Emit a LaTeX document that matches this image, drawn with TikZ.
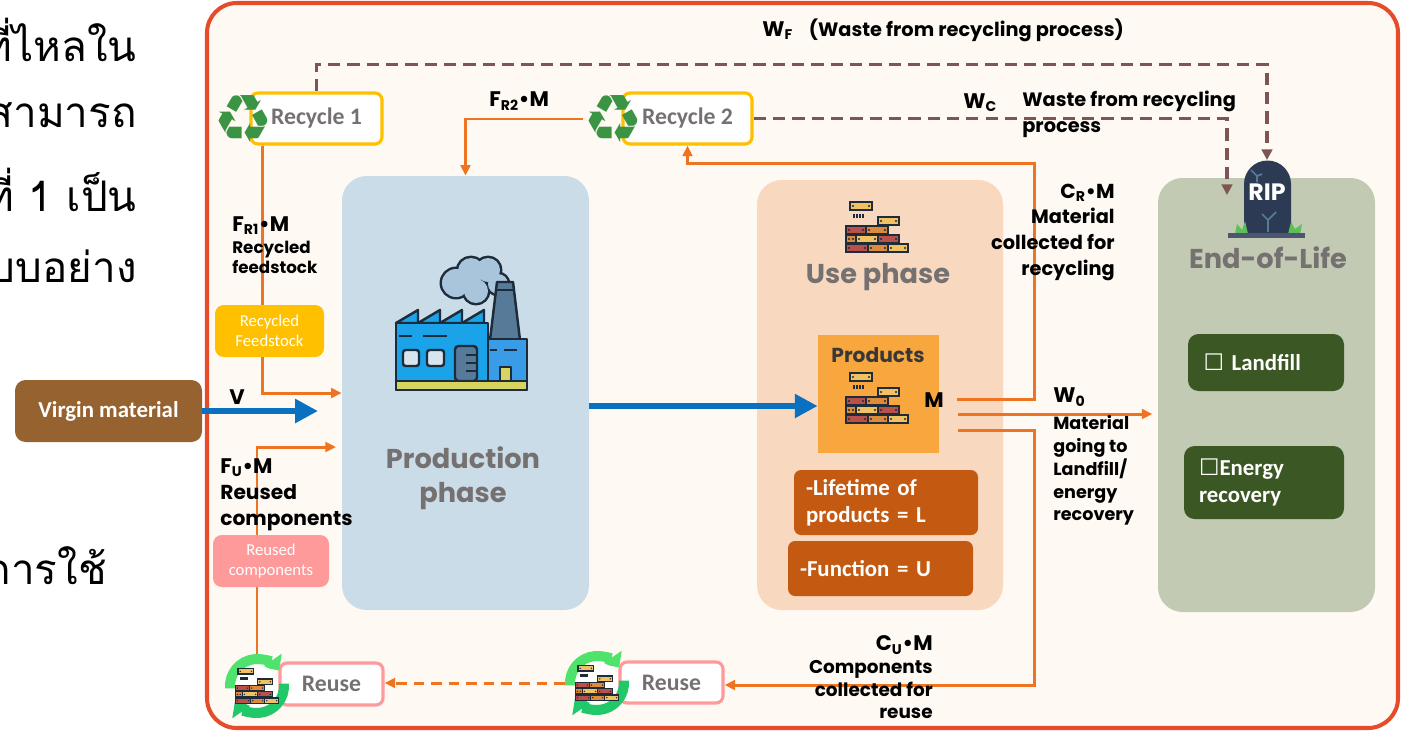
\documentclass[tikz,border=0pt]{standalone}
\usepackage{fontspec}
\setmainfont{Poppins}
\newfontfamily\boxfont{Carlito}
\newfontfamily\thaifont[Script=Thai]{Loma}
\newfontfamily\symfont{DejaVu Sans}
\usetikzlibrary{arrows.meta,positioning}

\definecolor{framered}{HTML}{E64B2A}
\definecolor{cream}{HTML}{FEFAF3}
\definecolor{prodblue}{HTML}{CADCE8}
\definecolor{usepeach}{HTML}{F8D8BF}
\definecolor{eolsage}{HTML}{C2CAB3}
\definecolor{eolgreen}{HTML}{3A5724}
\definecolor{lifebrown}{HTML}{C45A12}
\definecolor{prodorange}{HTML}{F8A63E}
\definecolor{virginbrown}{HTML}{966330}
\definecolor{flowblue}{HTML}{0A70C0}
\definecolor{floworange}{HTML}{EE7422}
\definecolor{wastebrown}{HTML}{7E5552}
\definecolor{feedyellow}{HTML}{FFC000}
\definecolor{comppink}{HTML}{FF9A9A}
\definecolor{titlegray}{HTML}{767171}
\definecolor{recgreen}{HTML}{3A9444}
\definecolor{ringlight}{HTML}{4FE36E}
\definecolor{ringdark}{HTML}{20C86A}
\definecolor{inkdark}{HTML}{1D2B3A}
\definecolor{brickred}{HTML}{B9514B}
\definecolor{brickorange}{HTML}{DB8B3A}
\definecolor{brickyellow}{HTML}{F1C262}
\definecolor{tombblue}{HTML}{2C3A53}
\definecolor{tombbase}{HTML}{4A5672}
\definecolor{grass}{HTML}{5CBF58}
\definecolor{factblue}{HTML}{1AA3E9}
\definecolor{factblueb}{HTML}{3A9BE6}
\definecolor{chimney}{HTML}{587A99}
\definecolor{smoke}{HTML}{A8C5DC}
\definecolor{winlight}{HTML}{D8E4EE}
\definecolor{baseyellow}{HTML}{D6D45E}

\tikzset{
  wh/.style 2 args={minimum width=#1*0.02cm, minimum height=#2*0.02cm},
  phase/.style={rounded corners=14pt, inner sep=0pt},
  darkbox/.style={rounded corners=4pt, inner sep=0pt, text=white,
    font=\boxfont\bfseries\fontsize{13}{15.5}\selectfont},
  tagbox/.style={rounded corners=5pt, inner sep=0pt, text=white, align=center,
    font=\boxfont\fontsize{9.5}{11.5}\selectfont},
  stepname/.style={draw, line width=1.8pt, fill=white, rounded corners=4pt, inner sep=0pt,
    text=titlegray, font=\boxfont\bfseries\fontsize{13.5}{16}\selectfont},
  phasetitle/.style={text=titlegray, align=center, inner sep=0pt,
    font=\bfseries\fontsize{15.5}{19.5}\selectfont},
  lbl/.style={inner sep=0pt, font=\bfseries\fontsize{11}{15}\selectfont},
  biglbl/.style={inner sep=0pt, font=\bfseries\fontsize{12}{14}\selectfont},
  recsym/.style={inner sep=0pt, text=recgreen, font=\symfont\fontsize{38}{38}\selectfont},
  flow/.style={floworange, line width=1.7pt, -{Triangle[length=6pt,width=5.5pt]}},
  vflow/.style={flowblue, line width=3.6pt, -{Triangle[length=13pt,width=13pt]}},
  waste/.style={wastebrown, line width=2pt, dash pattern=on 7pt off 4pt,
    -{Triangle[length=6pt,width=6pt]}},
  pics/bricks/.style={code={
    % a small pile of bricks, 62 x 50 units, centred
    \begin{scope}[shift={(-31,-25)}, draw=inkdark, line width=0.9pt]
      \foreach \bx/\by/\bw/\bc in {4/0/22/brickyellow, 32/15/21/brickyellow,
          0/24/20/brickred, 20/24/22/brickorange,
          0/33/10/brickorange, 10/33/22/brickyellow, 32/33/21/brickred,
          0/42/22/brickred, 22/42/20/brickorange, 42/42/20/brickyellow}
        {\filldraw[fill=\bc] (\bx,\by) rectangle ++(\bw,8);
         \fill[inkdark] ({\bx+3},{\by+4}) circle (1.1);
         \fill[inkdark] ({\bx+\bw-3},{\by+4}) circle (1.1);}
      \foreach \bx in {8,11,14,17} \draw (\bx,12) -- (\bx,16);
    \end{scope}
  }},
}

\begin{document}
\begin{tikzpicture}[x=0.02cm, y=-0.02cm]
  \useasboundingbox (0,0) rectangle (1407,731);
  \clip (0,0) rectangle (1407,731);

  % slide text on the left
  \foreach \ty/\tx/\thaitxt in {40/137/ที่ไหลใน, 115/137/สามารถ, 190/137/ที่ 1 เป็น,
      266/137/แบบอย่าง, 566/107/การใช้}
    \node[anchor=east, inner sep=0pt, font=\thaifont\fontsize{24}{28}\selectfont]
      (thai\ty) at (\tx,\ty) {\thaitxt};

  % frame and phases
  \node[draw=framered, line width=2.3pt, fill=cream, rounded corners=17pt, wh={1191}{725}]
    (frame) at (802.5,365.5) {};
  \node[phase, fill=prodblue, wh={247}{434}] (prod) at (465.5,393) {};
  \node[phase, fill=usepeach, wh={246}{430}] (use) at (880,395) {};
  \node[phase, fill=eolsage, wh={217}{434}] (eol) at (1266.5,395) {};

  \node[darkbox, fill=virginbrown, rounded corners=6pt, wh={187}{62}]
    (virgin) at (108.5,411) {Virgin material};
  \node[darkbox, fill=prodorange, rounded corners=0pt, wh={121}{118}] (products) at (878.5,394) {};
  \node[darkbox, fill=lifebrown, wh={184}{65}, align=left, text width=3.2cm]
    (life) at (886,502.5) {-Lifetime of\\products = L};
  \node[darkbox, fill=lifebrown, wh={185}{55}, align=left, text width=3.22cm]
    (func) at (880.5,568.5) {-Function = U};
  \node[darkbox, fill=eolgreen, rounded corners=6pt, wh={156}{57}, align=left, text width=2.5cm]
    (landfill) at (1266,362.5) {{\symfont\fontsize{13}{13}\selectfont ☐} Landfill};
  \node[darkbox, fill=eolgreen, rounded corners=6pt, wh={160}{73}, align=left, text width=2.6cm]
    (energy) at (1264,482.5) {{\symfont\fontsize{13}{13}\selectfont ☐}Energy\\recovery};

  % coordinates where the flows bend or end
  \coordinate (vin) at (318,411);
  \coordinate (pout) at (589,406);
  \coordinate (fuin) at (336,447);
  \coordinate (mout1) at (957,399);
  \coordinate (mout2) at (958,414);
  \coordinate (mout3) at (958,430);
  \coordinate (crtop) at (1034,163);
  \coordinate (cubot) at (1034,685);
  \coordinate (riptop) at (1267,160);
  \coordinate (wcend) at (1227,195);

  % recycle and reuse steps
  \node[stepname, draw=feedyellow, wh={131}{51}] (rec1) at (316.5,118.5) {Recycle 1};
  \node[stepname, draw=feedyellow, wh={129}{51}] (rec2) at (687.5,118.5) {Recycle 2};
  \node[stepname, draw=comppink, wh={103}{42}] (reuse1) at (331.5,684) {Reuse};
  \node[stepname, draw=comppink, wh={103}{41}] (reuse2) at (671.5,682.5) {Reuse};
  \node[circle, minimum size=1.28cm, inner sep=0pt] (reuseicon1) at (257,686) {};
  \node[circle, minimum size=1.28cm, inner sep=0pt] (reuseicon2) at (597,683) {};

  % material flows
  \draw[flow] (rec1.south west) ++(13,0) |- (prod.west);
  \draw[flow] (reuseicon1.north) |- (fuin);
  \draw[flow] (mout1) -| (crtop) -| (rec2.south);
  \draw[flow, shorten >=3pt] (mout2) -- (mout2 -| eol.west);
  \draw[flow] (mout3) -| (cubot) -- (cubot -| reuse2.east);
  \draw[flow, dash pattern=on 6pt off 4pt] (reuseicon2.west) -- (reuseicon2.west -| reuse1.east);
  \draw[vflow] (virgin.east) -- (vin);
  \draw[vflow] (pout) -- (pout -| products.west);

  % waste flows
  \draw[waste] (rec1.north) -- ++(0,-27) -| (riptop);
  \draw[waste] (rec2.east) -| (wcend);

  % tags on the inflows
  \node[tagbox, fill=feedyellow, wh={109}{52}] (feed) at (269.5,331) {Recycled\\Feedstock};
  \node[tagbox, fill=comppink, wh={116}{52}] (comp) at (271,561) {Reused\\components};

  % recycle symbols
  \node[recsym] (rec1icon) at (243,119) {♻};
  \node[recsym] (rec2icon) at (613,119) {♻};
  \draw[flow] (rec2icon.west) -| (prod.north);

  % reuse symbols
  \foreach \n in {1,2} {
    \draw[ringlight, line width=5.7pt, -{Triangle[length=7pt,width=13pt]}]
      (reuseicon\n.center) ++(175:27) arc[start angle=175, end angle=325, radius=27];
    \draw[ringdark, line width=5.7pt, -{Triangle[length=7pt,width=13pt]}]
      (reuseicon\n.center) ++(-5:27) arc[start angle=-5, end angle=145, radius=27];
    \fill[white] (reuseicon\n.center) circle (21);
    \pic[scale=0.7] at (reuseicon\n) {bricks};
  }

  % factory
  \begin{scope}[draw=inkdark, line width=1.4pt, line join=round]
    \foreach \cx/\cy/\r in {456/283/14, 471/271/13, 488/270/12, 498/284/10, 476/291/12}
      \draw[line width=2.8pt] (\cx,\cy) circle (\r);
    \foreach \cx/\cy/\r in {456/283/14, 471/271/13, 488/270/12, 498/284/10, 476/291/12}
      \fill[smoke] (\cx,\cy) circle (\r);
    \filldraw[fill=chimney] (490,340) -- (497,282) -- (513,282) -- (520,340) -- cycle;
    \draw (496,290) -- (514,290);
    \foreach \i in {0,...,3}
      \filldraw[fill=factblue] ({396+22*\i},323) -- ({418+22*\i},310) -- ({418+22*\i},323) -- cycle;
    \filldraw[fill=factblue] (396,323) rectangle (488,390);
    \filldraw[fill=factblueb] (488,339) rectangle (527,390);
    \filldraw[fill=winlight, rounded corners=1.5pt] (403,350) rectangle (419,366);
    \filldraw[fill=winlight, rounded corners=1.5pt] (427,350) rectangle (444,366);
    \draw (399,336) -- (412,336) (423,336) -- (447,336);
    \draw (490,350) -- (497,350) (504,350) -- (517,350);
    \filldraw[fill=chimney, rounded corners=2pt] (455,346) rectangle (477,381);
    \draw (466,355) -- (476,355) (466,363) -- (476,363) (466,371) -- (476,371);
    \filldraw[fill=baseyellow] (500,367) rectangle (511,381);
    \filldraw[fill=baseyellow] (396,381) rectangle (527,390);
  \end{scope}

  % bricks for the use phase and the products
  \pic at (877,227) {bricks};
  \pic at (877,398) {bricks};

  % tombstone
  \fill[tombblue] (1244,234) -- (1244,184) arc[start angle=180, end angle=360, radius=23.5]
    -- (1291,234) -- cycle;
  \draw[chimney, line width=1pt] (1251,170) -- (1257,176) -- (1262,174)
    (1257,176) -- (1257,182) (1268,232) -- (1268,220) -- (1276,212) (1268,220) -- (1262,214);
  \fill[grass] (1235,234) -- (1237,224) -- (1242,230) -- (1245,221) -- (1248,234) -- cycle;
  \fill[grass] (1288,234) -- (1291,222) -- (1295,229) -- (1302,224) -- (1300,234) -- cycle;
  \fill[tombbase] (1228,233) rectangle (1305,238);
  \node[text=white, inner sep=0pt, font=\bfseries\fontsize{13.5}{14}\selectfont] (rip) at (1267,192) {RIP};

  % phase titles
  \node[phasetitle] (prodtitle) at (463,478) {Production\\phase};
  \node[phasetitle] (usetitle) at (878,277) {Use phase};
  \node[phasetitle] (eoltitle) at (1268,258) {End-of-Life};
  \node[inner sep=0pt, text=black!78, font=\bfseries\fontsize{11.5}{14}\selectfont]
    (prodname) at (878,355) {Products};

  % flow labels
  \node[biglbl, anchor=west] (wf) at (762,30)
    {W\textsubscript{F}\hspace{9pt}{\fontsize{11}{14}\selectfont(Waste from recycling process)}};
  \node[biglbl, anchor=west] (wc) at (963,103) {W\textsubscript{C}};
  \node[lbl, anchor=north west, align=left, font=\bfseries\fontsize{11}{14.5}\selectfont]
    (wctxt) at (1022,91) {Waste from recycling\\process};
  \node[biglbl, anchor=west] (fr2) at (489,101) {F\textsubscript{R2}•M};
  \node[biglbl, anchor=west] (fr1) at (232,226) {F\textsubscript{R1}•M};
  \node[lbl, below right=3pt and 0pt of fr1.south west, align=left,
    font=\bfseries\fontsize{9.5}{11.5}\selectfont] (fr1txt) {Recycled\\feedstock};
  \node[biglbl] (vlbl) at (237,397) {V};
  \node[biglbl, anchor=west] (fu) at (220,468) {F\textsubscript{U}•M};
  \node[lbl, below right=4pt and 0pt of fu.south west, align=left,
    font=\bfseries\fontsize{11.5}{14.5}\selectfont] (futxt) {Reused\\components};
  \node[biglbl, anchor=east, font=\bfseries\fontsize{11.5}{14}\selectfont] (cr) at (1115,193) {C\textsubscript{R}•M};
  \node[lbl, below left=3pt and 0pt of cr.south east, align=right]
    (crtxt) {Material\\collected for\\recycling};
  \node[biglbl] (mlbl) at (934,400) {M};
  \node[biglbl, anchor=west] (wo) at (1053,397) {W\textsubscript{0}};
  \node[lbl, below right=5pt and 0pt of wo.south west, align=left,
    font=\bfseries\fontsize{10}{13}\selectfont] (wotxt)
    {Material\\going to\\Landfill/\\energy\\recovery};
  \node[biglbl, anchor=east] (cu) at (933,645) {C\textsubscript{U}•M};
  \node[lbl, below left=3pt and 0pt of cu.south east, align=right,
    font=\bfseries\fontsize{10.5}{13}\selectfont] (cutxt)
    {Components\\collected for\\reuse};
\end{tikzpicture}
\end{document}
